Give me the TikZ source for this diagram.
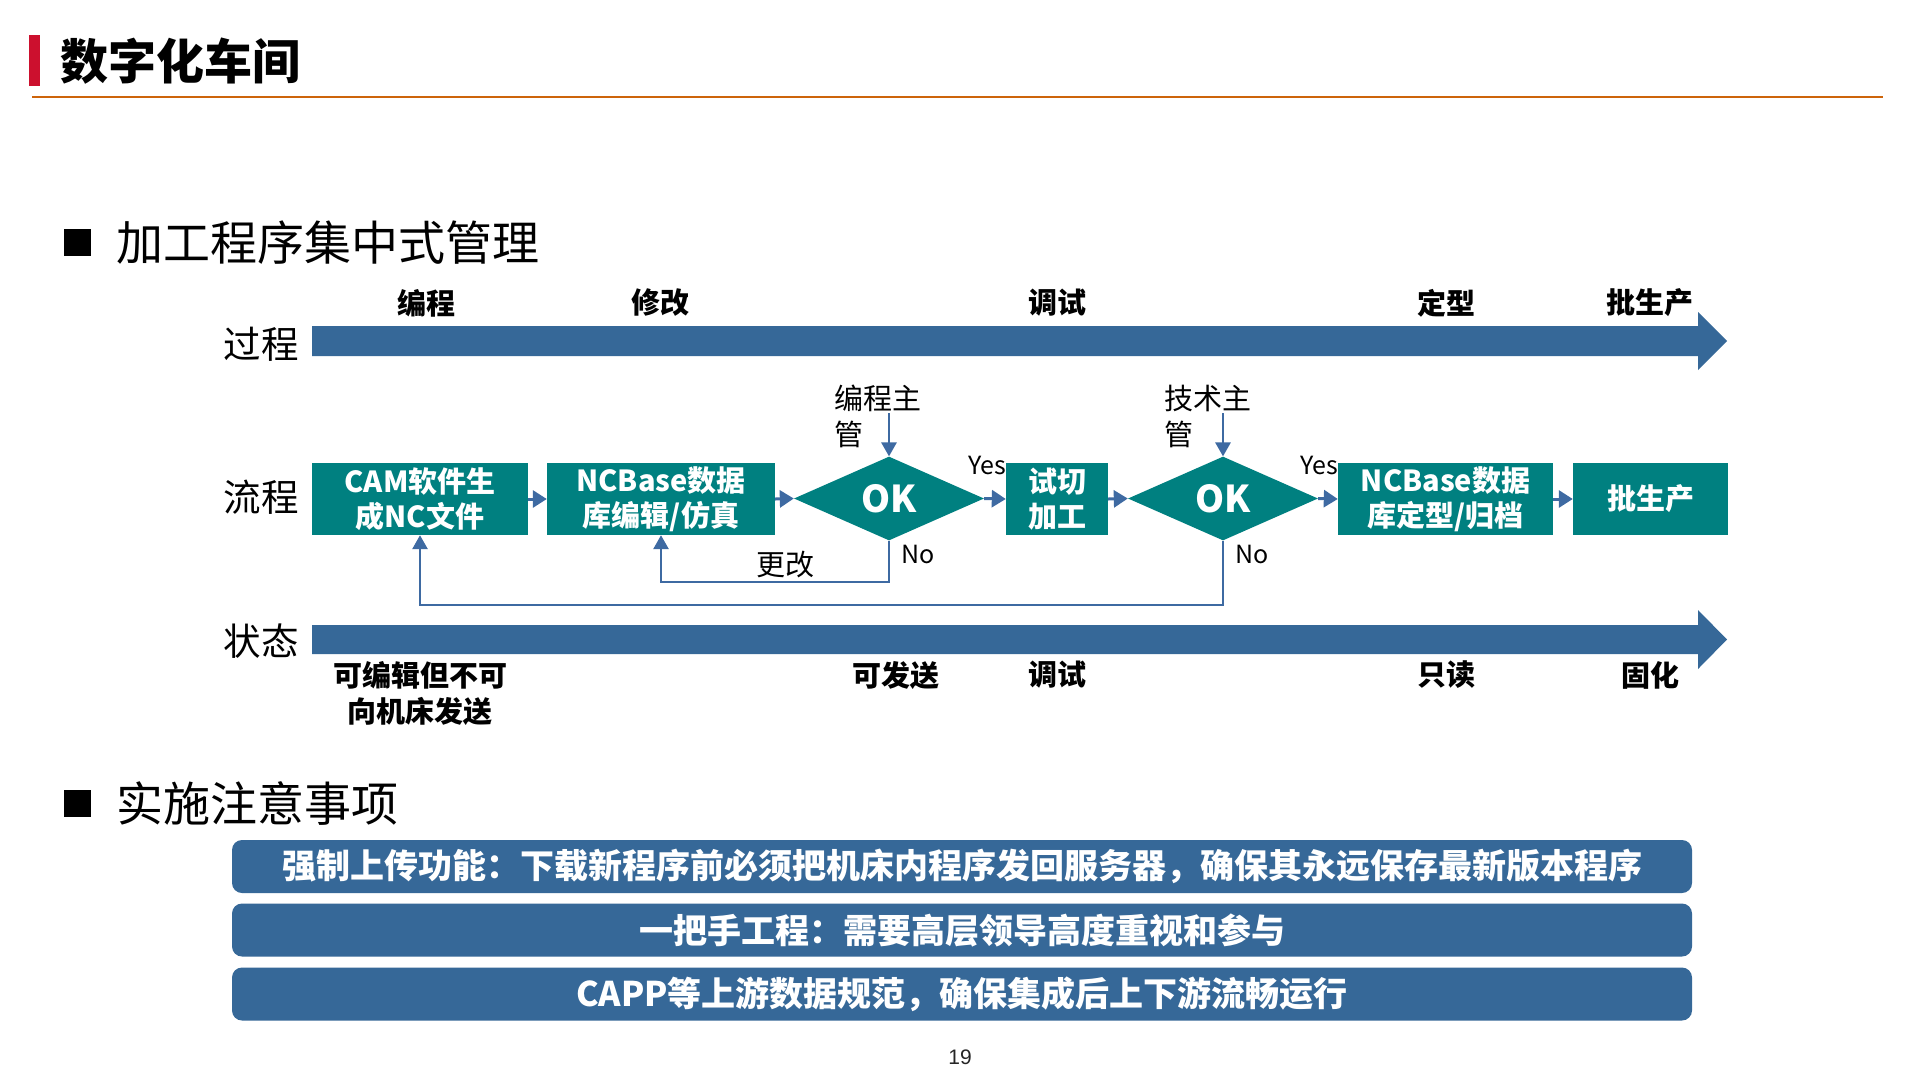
\documentclass[tikz,border=0pt]{standalone}
\usepackage{fontspec}
\setmainfont{Noto Sans CJK SC}
\newfontfamily\pagefont{Liberation Sans}
\usetikzlibrary{shapes.geometric,arrows.meta}
\definecolor{barblue}{RGB}{54,104,152}
\definecolor{lineblue}{RGB}{62,106,162}
\definecolor{tealbox}{RGB}{0,128,128}
\definecolor{titlered}{RGB}{204,16,46}
\definecolor{rulecol}{RGB}{205,100,10}
\begin{document}
\begin{tikzpicture}[x=1pt,y=-1pt,
  rowlab/.style={inner sep=0pt, font=\fontsize{37.5}{40}\selectfont},
  stagelab/.style={inner sep=0pt, font=\fontsize{29}{36}\selectfont\bfseries, align=center},
  fbox/.style={fill=tealbox, text=white, inner sep=0pt, minimum height=72pt, font=\fontsize{29}{35}\selectfont\bfseries, align=center},
  okdia/.style={diamond, fill=tealbox, text=white, inner sep=0pt, minimum width=190pt, minimum height=83pt, font=\fontsize{37}{40}\selectfont\bfseries},
  mgr/.style={inner sep=0pt, anchor=north west, align=left, font=\fontsize{29}{36}\selectfont},
  small/.style={inner sep=0pt, font=\fontsize{25}{28}\selectfont},
  flow/.style={draw=lineblue, line width=3pt, -{Triangle[length=14pt,width=17pt]}},
  back/.style={draw=lineblue, line width=2.8pt, -{Triangle[length=14pt,width=15pt]}},
  notebox/.style={fill=barblue, rounded corners=10pt, text=white, inner sep=0pt, minimum width=1460pt, minimum height=53pt, font=\fontsize{34}{38}\selectfont\bfseries}
]
\path[use as bounding box] (0,0) rectangle (1920,1080);
\fill[white] (0,0) rectangle (1920,1080);

% title
\fill[titlered] (29,35) rectangle (40,86);
\node[anchor=west, inner sep=0pt, font=\fontsize{48}{50}\selectfont\bfseries] (title) at (60,61) {数字化车间};
\draw[rulecol, line width=2.5pt] (32,97) -- (1883,97);

% headings
\fill[black] (64,229) rectangle (91,256);
\node[anchor=west, inner sep=0pt, font=\fontsize{47}{50}\selectfont] (h1) at (116,243) {加工程序集中式管理};
\fill[black] (64,790) rectangle (91,817);
\node[anchor=west, inner sep=0pt, font=\fontsize{47}{50}\selectfont] (h2) at (116,803) {实施注意事项};

% row labels
\node[rowlab] (lp) at (261,344) {过程};
\node[rowlab] (lf) at (261,497) {流程};
\node[rowlab] (ls) at (261,641) {状态};

% big arrows
\fill[barblue] (312,326) -- (1698,326) -- (1698,312) -- (1727,341) -- (1698,370) -- (1698,356) -- (312,356) -- cycle;
\fill[barblue] (312,625) -- (1698,625) -- (1698,610) -- (1727,639.5) -- (1698,669) -- (1698,654) -- (312,654) -- cycle;

% stage labels (top)
\node[stagelab] (t1) at (426,303) {编程};
\node[stagelab] (t2) at (660,303) {修改};
\node[stagelab] (t3) at (1057,303) {调试};
\node[stagelab] (t4) at (1446,303) {定型};
\node[stagelab] (t5) at (1650,303) {批生产};

% state labels (bottom)
\node[stagelab] (s1) at (420,693) {可编辑但不可\\向机床发送};
\node[stagelab] (s2) at (896,675) {可发送};
\node[stagelab] (s3) at (1057,675) {调试};
\node[stagelab] (s4) at (1446,675) {只读};
\node[stagelab] (s5) at (1650,675) {固化};

% flow boxes
\node[fbox, minimum width=216pt] (b1) at (420,499) {CAM软件生\\成NC文件};
\node[fbox, minimum width=228pt] (b2) at (661,499) {NCBase数据\\库编辑/仿真};
\node[okdia] (d1) at (889,498.5) {OK};
\node[fbox, minimum width=102pt] (b3) at (1057,499) {试切\\加工};
\node[okdia] (d2) at (1223,498.5) {OK};
\node[fbox, minimum width=215pt] (b4) at (1445.5,499) {NCBase数据\\库定型/归档};
\node[fbox, minimum width=155pt] (b5) at (1650.5,499) {批生产};

% managers
\node[mgr] (m1) at (834,385) {编程主\\管};
\node[mgr] (m2) at (1164,385) {技术主\\管};
\coordinate (m1a) at (889,413);
\coordinate (m2a) at (1223,413);
\draw[back] (m1a) -- (d1.north);
\draw[back] (m2a) -- (d2.north);

% flow arrows
\draw[flow] (b1.east) -- (b2.west);
\draw[flow] (b2.east) -- (d1.west);
\draw[flow] (d1.east) -- (b3.west);
\draw[flow] (b3.east) -- (d2.west);
\draw[flow] (d2.east) -- (b4.west);
\draw[flow] (b4.east) -- (b5.west);

% feedback loops
\coordinate (r1) at (889,582);
\coordinate (r2) at (661,582);
\coordinate (q1) at (1223,605);
\coordinate (q2) at (420,605);
\draw[back] (d1.south) -- (r1) -- (r2) -- (b2.south);
\draw[back] (d2.south) -- (q1) -- (q2) -- (b1.south);

% yes/no labels
\node[small] (y1) at (987,465) {Yes};
\node[small] (n1) at (918,554) {No};
\node[small] (y2) at (1319,465) {Yes};
\node[small] (n2) at (1252,554) {No};
\node[inner sep=0pt, font=\fontsize{29}{32}\selectfont] (gg) at (785,565) {更改};

% notes
\node[notebox] (c1) at (962,866.5) {强制上传功能：下载新程序前必须把机床内程序发回服务器，确保其永远保存最新版本程序};
\node[notebox] (c2) at (962,930) {一把手工程：需要高层领导高度重视和参与};
\node[notebox] (c3) at (962,994) {CAPP等上游数据规范，确保集成后上下游流畅运行};

\node[inner sep=0pt, font=\pagefont\fontsize{21}{24}\selectfont, text=black!85] (pg) at (960,1057) {19};
\end{tikzpicture}
\end{document}
